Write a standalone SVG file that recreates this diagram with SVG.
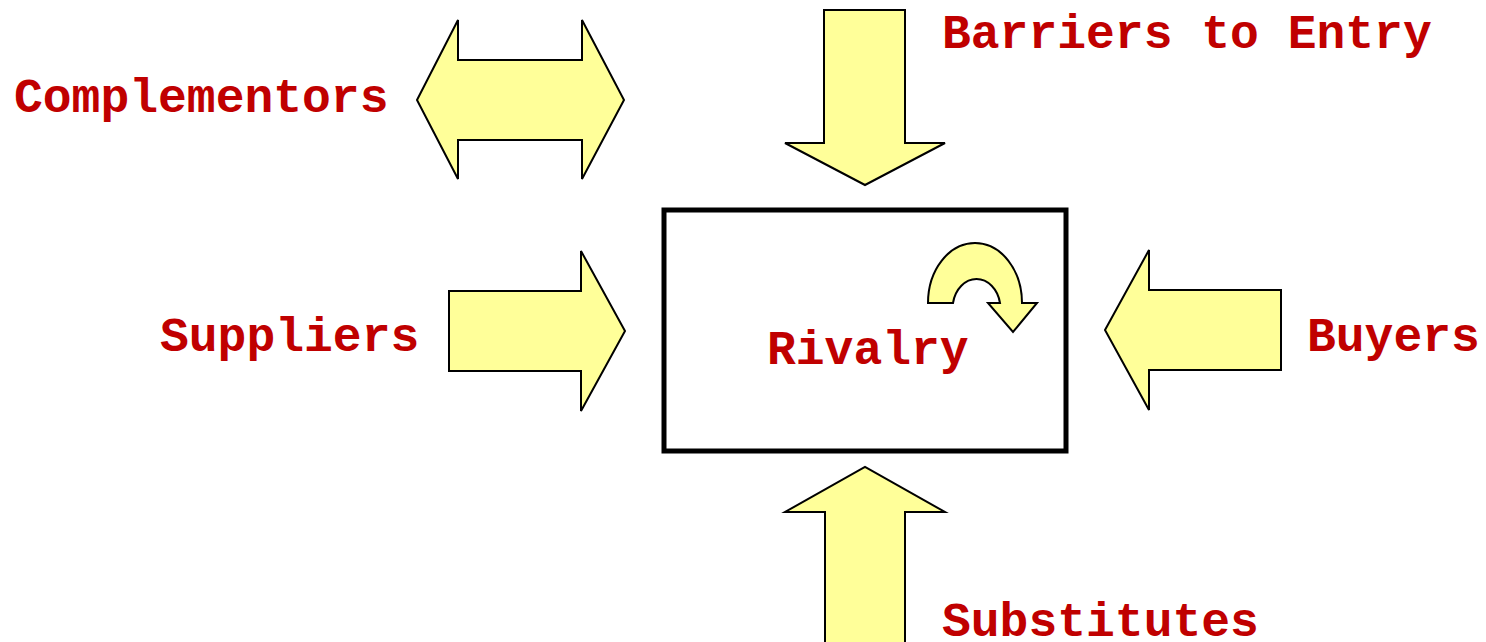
<svg xmlns="http://www.w3.org/2000/svg" width="1486" height="642" viewBox="0 0 1486 642">
  <defs>
    <style>
      .arrow { fill: #FFFF99; stroke: #000000; stroke-width: 2; stroke-linejoin: miter; }
      .label { font-family: "Liberation Mono", "Courier New", monospace; font-weight: bold; font-size: 48px; fill: #C00000; }
      .box { fill: #FFFFFF; stroke: #000000; stroke-width: 5; }
    </style>
  </defs>
  <rect width="1486" height="642" fill="#FFFFFF"/>

  <g id="rivalry">
    <rect class="box" x="664" y="210" width="402" height="241"/>
    <path class="arrow" d="M 928 303 A 47 60 0 0 1 1022 303 L 1037 303 L 1013 332 L 988 303 L 1000 303 A 24 30 0 0 0 953 303 Z"/>
    <text class="label" x="767" y="364">Rivalry</text>
  </g>

  <g id="connectors">
    <!-- complementors: two-headed -->
    <path class="arrow" d="M 417 100 L 458 20 L 458 60 L 582 60 L 582 20 L 624 100 L 582 179 L 582 140 L 458 140 L 458 179 Z"/>
    <!-- barriers to entry: pointing down -->
    <path class="arrow" d="M 824 10 L 905 10 L 905 143 L 945 143 L 865 185 L 785 143 L 824 143 Z"/>
    <!-- substitutes: pointing up -->
    <path class="arrow" d="M 825 645 L 825 512 L 785 512 L 865 467 L 945 512 L 905 512 L 905 645"/>
    <!-- suppliers: pointing right -->
    <path class="arrow" d="M 449 291 L 581 291 L 581 251 L 625 331 L 581 411 L 581 371 L 449 371 Z"/>
    <!-- buyers: pointing left -->
    <path class="arrow" d="M 1281 290 L 1149 290 L 1149 250 L 1105 330 L 1149 410 L 1149 370 L 1281 370 Z"/>
  </g>

  <g id="complementors">
    <text class="label" x="14" y="112">Complementors</text>
  </g>
  <g id="barriers">
    <text class="label" x="942" y="48">Barriers to Entry</text>
  </g>
  <g id="suppliers">
    <text class="label" x="160" y="351">Suppliers</text>
  </g>
  <g id="buyers">
    <text class="label" x="1307" y="351">Buyers</text>
  </g>
  <g id="substitutes">
    <text class="label" x="942" y="636">Substitutes</text>
  </g>
</svg>
